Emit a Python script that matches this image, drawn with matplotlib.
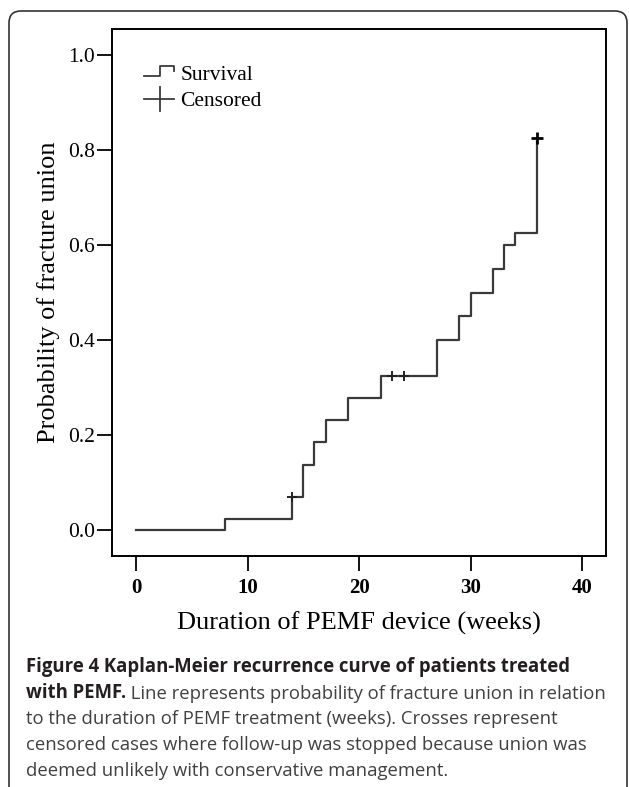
import matplotlib
matplotlib.use("Agg")
import matplotlib.pyplot as plt
from matplotlib.lines import Line2D
from matplotlib.legend_handler import HandlerBase
from matplotlib.patches import FancyBboxPatch
from matplotlib.transforms import IdentityTransform

# Kaplan-Meier steps
weeks = [0, 8, 14, 15, 16, 17, 19, 22, 27, 29, 30, 32, 33, 34, 36]
union_prob = [0, 0.023, 0.069, 0.138, 0.185, 0.232, 0.278, 0.325,
              0.40, 0.45, 0.50, 0.55, 0.60, 0.625, 0.825]

# censored cases
censor_weeks = [14, 23, 24, 36]
censor_prob = [0.069, 0.325, 0.325, 0.825]

x_ticks = [0, 10, 20, 30, 40]
y_ticks = [0.0, 0.2, 0.4, 0.6, 0.8, 1.0]

caption_bold = "Figure 4 Kaplan-Meier recurrence curve of patients treated"
caption_bold2 = "with PEMF."
caption_lines = [
    "Line represents probability of fracture union in relation",
    "to the duration of PEMF treatment (weeks). Crosses represent",
    "censored cases where follow-up was stopped because union was",
    "deemed unlikely with conservative management.",
]

SERIF = "Liberation Serif"
LINE_COL = "#3a3a3a"
CAP_SIZE = 13.35


class StepHandler(HandlerBase):
    def create_artists(self, legend, orig_handle, xdescent, ydescent,
                       width, height, fontsize, trans):
        xs = [0, 0.55 * width, 0.55 * width, width, width]
        ys = [0.25 * height, 0.25 * height, 0.95 * height, 0.95 * height, 0.6 * height]
        ln = Line2D(xs, ys, color=LINE_COL, lw=1.3, transform=trans)
        return [ln]


class CrossHandler(HandlerBase):
    def create_artists(self, legend, orig_handle, xdescent, ydescent,
                       width, height, fontsize, trans):
        h = Line2D([0, width], [0.5 * height, 0.5 * height], color=LINE_COL,
                   lw=1.3, transform=trans)
        v = Line2D([0.55 * width, 0.55 * width], [-0.3 * height, 1.3 * height],
                   color=LINE_COL, lw=1.3, transform=trans)
        return [h, v]


fig = plt.figure(figsize=(6.29, 7.87), dpi=100)
ax = fig.add_axes([0.1776, 0.2939, 0.7858, 0.6693])

ax.step(weeks, union_prob, where="post", color=LINE_COL, lw=1.6)
# the last censored case is drawn heavier than the others, as in the original
ax.plot(censor_weeks[:-1], censor_prob[:-1], ls="none", marker="+", ms=7,
        mew=1.4, color="#222222")
ax.plot(censor_weeks[-1:], censor_prob[-1:], ls="none", marker="+", ms=8,
        mew=2.0, color="black")

ax.set_xlim(-2.18, 42.15)
ax.set_ylim(-0.054, 1.055)
ax.set_xticks(x_ticks)
ax.set_yticks(y_ticks)
ax.set_xticklabels([str(t) for t in x_ticks], fontfamily=SERIF,
                   fontweight="bold", fontsize=15)
ax.set_yticklabels(["%.1f" % t for t in y_ticks], fontfamily=SERIF,
                   fontsize=15.5)
ax.tick_params(axis="x", direction="out", length=11, width=1.3, pad=5)
ax.tick_params(axis="y", direction="out", length=11, width=1.3, pad=1)
for sp in ax.spines.values():
    sp.set_linewidth(1.4)

ax.set_xlabel("Duration of PEMF device (weeks)", fontfamily=SERIF,
              fontsize=19, labelpad=10)
ax.set_ylabel("Probability of fracture union", fontfamily=SERIF,
              fontsize=19, labelpad=6)

surv = Line2D([], [], color=LINE_COL)
cens = Line2D([], [], color=LINE_COL)
ax.legend([surv, cens], ["Survival", "Censored"],
          handler_map={surv: StepHandler(), cens: CrossHandler()},
          loc="upper left", bbox_to_anchor=(0.065, 0.932), frameon=False,
          borderpad=0, borderaxespad=0, handlelength=1.4,
          handletextpad=0.3, labelspacing=0.3,
          prop={"family": SERIF, "size": 15.5})

# caption below the chart
cx = 26 / 629
fig.text(cx, 1 - 671.7 / 787, caption_bold, fontfamily="Open Sans",
         fontweight="bold", fontsize=CAP_SIZE, color="#231f20", va="baseline")
b2 = fig.text(cx, 1 - 697.9 / 787, caption_bold2, fontfamily="Open Sans",
              fontweight="bold", fontsize=CAP_SIZE, color="#231f20",
              va="baseline")
ax.annotate(" " + caption_lines[0], xy=(1, 0), xycoords=b2,
            va="bottom", ha="left", fontfamily="Open Sans", fontsize=CAP_SIZE,
            color="#404040", annotation_clip=False)
for i, line in enumerate(caption_lines[1:]):
    y = 724.0 + 26.2 * i
    fig.text(cx, 1 - y / 787, line, fontfamily="Open Sans", fontsize=CAP_SIZE,
             color="#404040", va="baseline")

# rounded frame around the whole figure (bottom edge is cut off)
frame = FancyBboxPatch((9, -30), 618, 776 + 30,
                       boxstyle="round,pad=0,rounding_size=12",
                       transform=IdentityTransform(), fill=False,
                       ec="#333333", lw=1.2)
fig.patches.append(frame)

fig.savefig("out.png", dpi=100)
